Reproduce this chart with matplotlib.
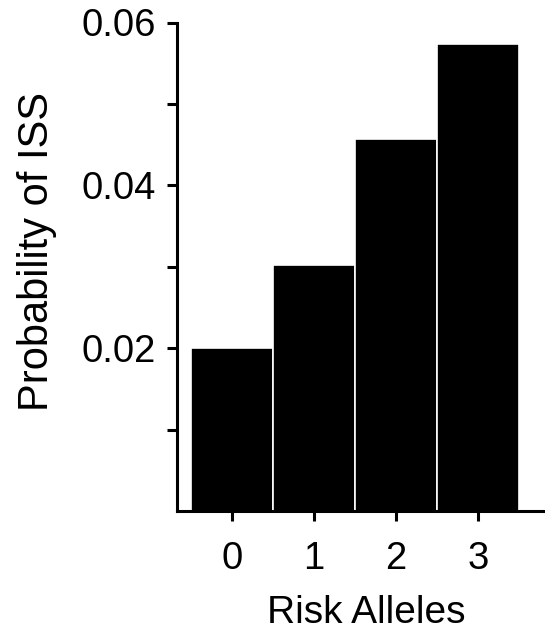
import numpy as np
from matplotlib import pyplot as plt

plt.rcParams['font.family'] = ['Liberation Sans', 'DejaVu Sans']

alleles = ['0', '1', '2', '3']
prob_iss = [0.0200, 0.0302, 0.0457, 0.0573]

fig = plt.figure(figsize=(5.45, 6.39), dpi=100)
ax = fig.add_axes([177 / 545, 128 / 639, 368 / 545, 488.5 / 639])

x = np.arange(len(alleles))
ax.bar(x, prob_iss, width=1.0, color='black', edgecolor='white', linewidth=1.2)

ax.set_xlim(-0.67, 3.82)
ax.set_ylim(0, 0.06)

ax.set_xticks(x)
ax.set_xticklabels(alleles)
ax.set_yticks([0.02, 0.04, 0.06])
ax.set_yticklabels(['0.02', '0.04', '0.06'])
ax.set_yticks([0.01, 0.03, 0.05], minor=True)

for side in ['top', 'right']:
    ax.spines[side].set_visible(False)
for side in ['left', 'bottom']:
    ax.spines[side].set_linewidth(2.2)

ax.tick_params(axis='both', which='both', length=7.5, width=2.2, labelsize=27.5)
ax.tick_params(axis='y', pad=8)
ax.tick_params(axis='x', pad=14)

ax.set_xlabel('Risk Alleles', fontsize=28)
ax.set_ylabel('Probability of ISS', fontsize=30)
ax.xaxis.set_label_coords(0.515, -0.172)
ax.yaxis.set_label_coords(-0.325, 0.532)

plt.savefig('out.png', dpi=100)
